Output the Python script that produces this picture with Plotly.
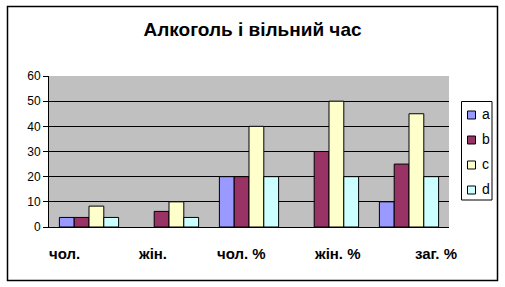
import plotly.graph_objects as go

categories = ["чол.", "жін.", "чол. %", "жін. %", "заг. %"]
series_names = ["a", "b", "c", "d"]
a_vals = [3.8, 0, 20, 0, 10]
b_vals = [3.8, 6.2, 20, 30, 25]
c_vals = [8.3, 10, 40, 50, 45]
d_vals = [3.8, 3.8, 20, 20, 20]
y_ticks = [0, 10, 20, 30, 40, 50, 60]

colors = ["#9999FF", "#993366", "#FFFFCC", "#CCFFFF"]
label_shifts = [-25, -17, -8, 8, 27]

W, H = 505, 287
L, R, T, B = 49, 449, 76, 227
pw, ph = R - L, B - T


def px(x):
    return (x - L) / pw


def py(y):
    return (B - y) / ph


fig = go.Figure()
for name, vals, col in zip(series_names, [a_vals, b_vals, c_vals, d_vals], colors):
    fig.add_trace(go.Bar(
        x=categories, y=vals, name=name, showlegend=False,
        marker=dict(color=col,
                    line=dict(color="black", width=[1 if v else 0 for v in vals])),
    ))

font = "Liberation Sans, Arial, sans-serif"
fig.update_layout(
    width=W, height=H,
    margin=dict(l=L, r=W - R, t=T, b=H - B, pad=0, autoexpand=False),
    paper_bgcolor="white", plot_bgcolor="#C0C0C0",
    barmode="group", bargap=0.26, bargroupgap=0,
    title=dict(text="<b>Алкоголь і вільний час</b>", x=0.5, xanchor="center",
               y=1 - 29 / H, yanchor="middle", yref="container",
               font=dict(family=font, size=19, color="black")),
    xaxis=dict(type="category", range=[-0.5, 4.5], showticklabels=False,
               showgrid=False, showline=True, linecolor="black", linewidth=1,
               ticks="", zeroline=False),
    yaxis=dict(range=[0, 60], tickvals=y_ticks, showgrid=True, gridcolor="black",
               gridwidth=1, showline=True, linecolor="black", linewidth=1,
               ticks="outside", ticklen=5, tickcolor="black", zeroline=False,
               tickfont=dict(family=font, size=12, color="black")),
    showlegend=False,
)

for cat, sh in zip(categories, label_shifts):
    fig.add_annotation(x=cat, xref="x", y=0, yref="paper", yshift=-26, xshift=sh,
                       text="<b>" + cat + "</b>", showarrow=False, yanchor="middle",
                       font=dict(family=font, size=15, color="black"))

# outer chart border
fig.add_shape(type="rect", xref="paper", yref="paper",
              x0=px(7.5), x1=px(497.5), y0=py(280.5), y1=py(6.5),
              line=dict(color="black", width=1.5), fillcolor="rgba(0,0,0,0)", layer="below")

# legend (drawn by hand, Excel-style)
fig.add_shape(type="rect", xref="paper", yref="paper",
              x0=px(461.5), x1=px(492), y0=py(200), y1=py(101.5),
              line=dict(color="black", width=1), fillcolor="white")
for i, (name, col) in enumerate(zip(series_names, colors)):
    cy = 115 + 25 * i
    fig.add_shape(type="rect", xref="paper", yref="paper",
                  x0=px(467.5), x1=px(475.5), y0=py(cy + 4), y1=py(cy - 4),
                  line=dict(color="black", width=1), fillcolor=col)
    fig.add_annotation(x=px(479.5), y=py(cy - 1), xref="paper", yref="paper",
                       text=name, showarrow=False, xanchor="left", yanchor="middle",
                       font=dict(family=font, size=14, color="black"))

fig.write_html("out.html")
